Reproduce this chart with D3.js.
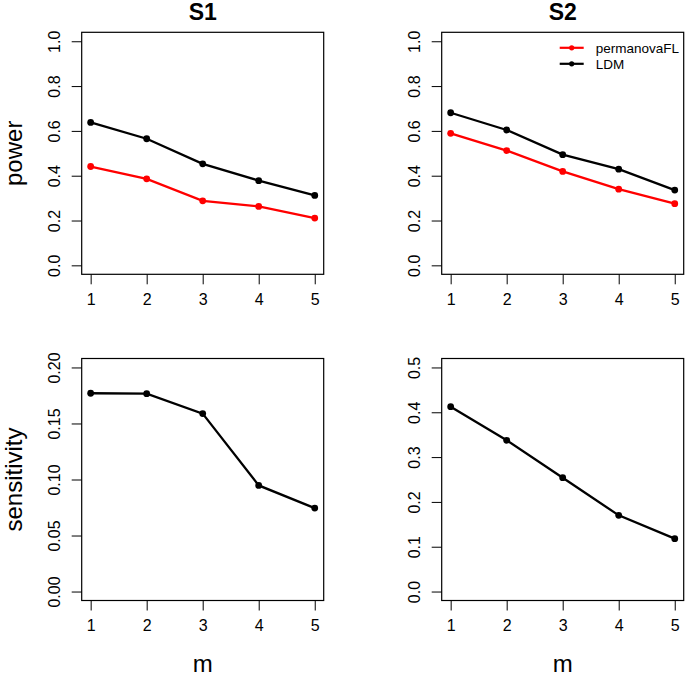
<!DOCTYPE html>
<html>
<head>
<meta charset="utf-8">
<script src="https://cdn.jsdelivr.net/npm/d3@7"></script>
<style>
  body { margin: 0; background: #fff; }
  svg { display: block; font-family: "Liberation Sans", Arial, Helvetica, sans-serif; }
</style>
</head>
<body>
<script>
// values
var mValues = [1, 2, 3, 4, 5];
var powerS1Perm = [0.441, 0.386, 0.288, 0.263, 0.211];
var powerS1LDM  = [0.638, 0.565, 0.453, 0.378, 0.312];
var powerS2Perm = [0.589, 0.512, 0.419, 0.340, 0.275];
var powerS2LDM  = [0.681, 0.604, 0.494, 0.429, 0.336];
var sensS1LDM   = [0.177, 0.1766, 0.1588, 0.0947, 0.0745];
var sensS2LDM   = [0.4125, 0.3375, 0.254, 0.170, 0.118];

var powerTicks = [0, 0.2, 0.4, 0.6, 0.8, 1.0];
var sensS1Ticks = [0, 0.05, 0.10, 0.15, 0.20];
var sensS2Ticks = [0, 0.1, 0.2, 0.3, 0.4, 0.5];
var seriesNames = ["permanovaFL", "LDM"];
var seriesColors = ["#ff0000", "#000000"];

var svg = d3.select("body").append("svg").attr("width", 685).attr("height", 677);

var panelW = 242, panelH = 242;

// one panel = box + axes + lines
function drawPanel(left, top, yMax, yTicks, yFmt, series) {
  var g = svg.append("g").attr("transform", "translate(" + left + "," + top + ")");

  var x = d3.scaleLinear().domain([1 - 0.16, 5 + 0.16]).range([0, panelW]);
  var y = d3.scaleLinear().domain([-0.04 * yMax, 1.04 * yMax]).range([panelH, 0]);

  var xAxis = g.append("g").attr("transform", "translate(0," + panelH + ")")
      .call(d3.axisBottom(x).tickValues(mValues).tickFormat(d3.format("d")).tickSize(10));
  xAxis.select(".domain").remove();
  xAxis.selectAll("text")
      .style("font-size", "16px").attr("font-family", null)
      .attr("y", 25).attr("dy", "0.35em");

  var yAxis = g.append("g")
      .call(d3.axisLeft(y).tickValues(yTicks).tickFormat(yFmt).tickSize(10));
  yAxis.select(".domain").remove();
  yAxis.selectAll("text")
      .style("font-size", "16px").attr("font-family", null)
      .attr("x", 0).attr("y", -22).attr("dy", null)
      .attr("text-anchor", "middle")
      .attr("transform", "rotate(-90)");
  g.selectAll(".tick line").attr("stroke", "#000");

  g.append("rect")
      .attr("x", 0).attr("y", 0)
      .attr("width", panelW).attr("height", panelH)
      .attr("fill", "none").attr("stroke", "#000").attr("stroke-width", 1.2);

  var line = d3.line().x(function(d, i) { return x(mValues[i]); }).y(function(d) { return y(d); });

  series.forEach(function(s) {
    g.append("path").datum(s.values)
        .attr("d", line).attr("fill", "none")
        .attr("stroke", s.color).attr("stroke-width", 2.3);
    g.selectAll(null).data(s.values).enter().append("circle")
        .attr("cx", function(d, i) { return x(mValues[i]); })
        .attr("cy", function(d) { return y(d); })
        .attr("r", 3.4).attr("fill", s.color);
  });
  return g;
}

var lefts = [81.7, 441.7], tops = [32.3, 358.5];
var f1 = d3.format(".1f"), f2 = d3.format(".2f");

drawPanel(lefts[0], tops[0], 1, powerTicks, f1, [
  {values: powerS1Perm, color: seriesColors[0]},
  {values: powerS1LDM, color: seriesColors[1]}
]);
var p2 = drawPanel(lefts[1], tops[0], 1, powerTicks, f1, [
  {values: powerS2Perm, color: seriesColors[0]},
  {values: powerS2LDM, color: seriesColors[1]}
]);
drawPanel(lefts[0], tops[1], 0.2, sensS1Ticks, f2, [{values: sensS1LDM, color: "#000"}]);
drawPanel(lefts[1], tops[1], 0.5, sensS2Ticks, f1, [{values: sensS2LDM, color: "#000"}]);

// legend in S2 power panel
var legend = p2.append("g").attr("transform", "translate(118,15.5)");
seriesNames.forEach(function(name, i) {
  var row = legend.append("g").attr("transform", "translate(0," + (i * 16) + ")");
  row.append("line").attr("x1", 0).attr("x2", 24).attr("y1", 0).attr("y2", 0)
      .attr("stroke", seriesColors[i]).attr("stroke-width", 2.2);
  row.append("circle").attr("cx", 12).attr("cy", 0).attr("r", 2.6).attr("fill", seriesColors[i]);
  row.append("text").attr("x", 36).attr("y", 0).attr("dy", "0.35em")
      .attr("font-size", 13.5).text(name);
});

// titles and axis labels
["S1", "S2"].forEach(function(t, i) {
  svg.append("text").attr("x", lefts[i] + panelW / 2).attr("y", 20)
      .attr("text-anchor", "middle").attr("font-size", 23).attr("font-weight", "bold").text(t);
  svg.append("text").attr("x", lefts[i] + panelW / 2).attr("y", 672)
      .attr("text-anchor", "middle").attr("font-size", 24).text("m");
});
["power", "sensitivity"].forEach(function(t, i) {
  svg.append("text")
      .attr("transform", "translate(22," + (tops[i] + panelH / 2) + ") rotate(-90)")
      .attr("text-anchor", "middle").attr("font-size", 24).text(t);
});
</script>
</body>
</html>
